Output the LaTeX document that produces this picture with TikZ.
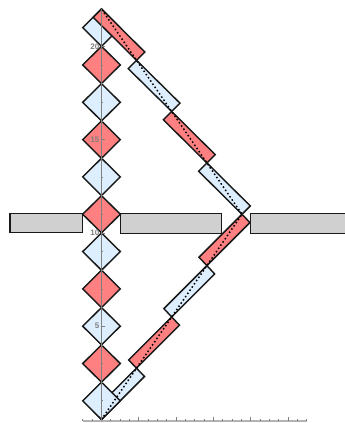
\documentclass[tikz,border=0pt]{standalone}
\usepackage{fontspec}
\setmainfont{Liberation Sans}
\definecolor{barblue}{HTML}{DDEEFF}
\definecolor{barred}{HTML}{FF8080}
\definecolor{slab}{HTML}{D0D0D0}
\definecolor{axisgray}{HTML}{808080}
\tikzset{
  piece/.style={draw=black!90,line width=1.45pt,line join=miter},
  slabbox/.style={draw=black!90,fill=slab,line width=1.1pt},
  axisline/.style={draw=axisgray,line width=0.9pt},
  tickline/.style={draw=axisgray,line width=0.7pt},
  ticklabel/.style={text=axisgray,font=\fontsize{8}{9}\selectfont\bfseries,inner sep=0pt,anchor=east},
  trace/.style={black,line width=1.5pt,dash pattern=on 1.5pt off 2.4pt}
}
\begin{document}
\begin{tikzpicture}[x=1pt,y=-1pt]
\useasboundingbox (0,0) rectangle (345,423);
% slabs
\draw[slabbox] (10,213.3) rectangle (82.4,232.9);
\draw[slabbox] (120.8,213.3) rectangle (221.4,233.2);
\fill[slab] (250.4,213.6) rectangle (345,233.4);
\draw[slabbox,fill=none] (345.5,213.6) -- (250.4,213.6) -- (250.4,233.4) -- (345.5,233.4);
% joints
\coordinate (J0) at (101.5,419.5);
\coordinate (J1) at (136.5,368.2);
\coordinate (J2) at (171.7,317);
\coordinate (J3) at (206.9,265.6);
\coordinate (J4) at (242,214.25);
\coordinate (J5) at (206.9,162.9);
\coordinate (J6) at (171.7,111.5);
\coordinate (J7) at (136.5,60.3);
\coordinate (J8) at (101.5,9);
% first bar lies under the diamonds
\draw[piece,fill=barblue] (J0) -- ++(43,-43) -- (J1) -- ++(-43,43) -- cycle;
% diamonds
\foreach \i/\c in {0/barblue,1/barred,2/barblue,3/barred,4/barblue,5/barred,6/barblue,7/barred,8/barblue,9/barred,10/barblue}{
  \pgfmathsetmacro{\yy}{419.5-37.32*\i}
  \draw[piece,fill=\c] (101.5,\yy) -- ++(18.8,-18.66) -- ++(-18.8,-18.66) -- ++(-18.8,18.66) -- cycle;
}
% remaining bars
\draw[piece,fill=barred]  (J1) -- ++(43,-43) -- (J2) -- ++(-43,43) -- cycle;
\draw[piece,fill=barblue] (J2) -- ++(43,-43) -- (J3) -- ++(-43,43) -- cycle;
\draw[piece,fill=barred]  (J3) -- ++(43,-43) -- (J4) -- ++(-43,43) -- cycle;
\draw[piece,fill=barblue] (J4) -- ++(8.3,-8.3) -- (J5) -- ++(-8.3,8.3) -- cycle;
\draw[piece,fill=barred]  (J5) -- ++(8.3,-8.3) -- (J6) -- ++(-8.3,8.3) -- cycle;
\draw[piece,fill=barblue] (J6) -- ++(8.3,-8.3) -- (J7) -- ++(-8.3,8.3) -- cycle;
\draw[piece,fill=barred]  (J7) -- ++(8.3,-8.3) -- (J8) -- ++(-8.3,8.3) -- cycle;
% path of the ray
\draw[trace] (J0) -- (J1) -- (J2) -- (J3) -- (J4) -- (J5) -- (J6) -- (J7) -- (J8);
% axes
\draw[axisline] (101.5,420.5) -- (101.5,9);
\draw[draw=axisgray!60,line width=1.1pt] (82.5,421) -- (307,421);
\foreach \k in {-2,-1,...,22}{
  \pgfmathsetmacro{\xx}{101.5+9.33*\k}
  \draw[tickline] (\xx,420.5) -- (\xx,418.6);
}
\foreach \k in {0,1,...,5}{
  \pgfmathsetmacro{\xx}{101.5+37.32*\k}
  \draw[tickline] (\xx,420.5) -- (\xx,417);
}
\foreach \k in {1,2,...,21}{
  \pgfmathsetmacro{\yy}{419.5-18.66*\k}
  \draw[tickline] (101.5,\yy) -- (103.3,\yy);
}
\foreach \v in {5,10,15,20}{
  \pgfmathsetmacro{\yy}{419.5-18.66*\v}
  \draw[tickline] (101.5,\yy) -- (105,\yy);
  \node[ticklabel] (lab\v) at (99.5,\yy) {\v};
}
\end{tikzpicture}
\end{document}
